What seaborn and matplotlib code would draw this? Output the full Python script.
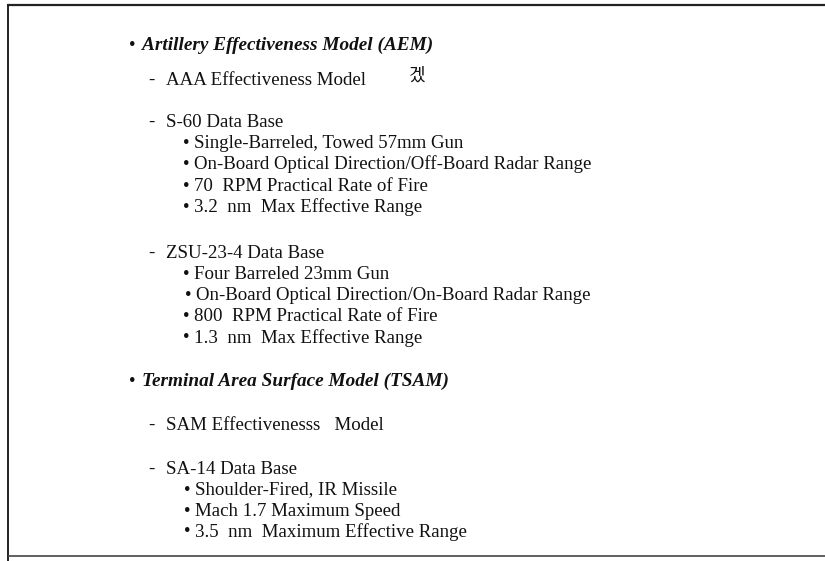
import matplotlib
matplotlib.use("Agg")
import matplotlib.pyplot as plt
import seaborn as sns

# ---- content ----
heading_1 = "Artillery Effectiveness Model (AEM)"
aem_items = ["AAA Effectiveness Model", "S-60 Data Base", "ZSU-23-4 Data Base"]
s60_details = ["Single-Barreled, Towed 57mm Gun",
               "On-Board Optical Direction/Off-Board Radar Range",
               "70  RPM Practical Rate of Fire",
               "3.2  nm  Max Effective Range"]
zsu_details = ["Four Barreled 23mm Gun",
               "On-Board Optical Direction/On-Board Radar Range",
               "800  RPM Practical Rate of Fire",
               "1.3  nm  Max Effective Range"]
heading_2 = "Terminal Area Surface Model (TSAM)"
tsam_items = ["SAM Effectivenesss   Model", "SA-14 Data Base"]
sa14_details = ["Shoulder-Fired, IR Missile",
                "Mach 1.7 Maximum Speed",
                "3.5  nm  Maximum Effective Range"]
stray_mark = "겠"

sns.set_theme(style="white")
plt.rcParams["font.family"] = ["Liberation Serif", "Noto Sans CJK KR", "DejaVu Sans"]

W, H = 825, 561
fig = plt.figure(figsize=(W / 100, H / 100), dpi=100)
ax = fig.add_axes([0, 0, 1, 1])
ax.set_xlim(0, W)
ax.set_ylim(H, 0)
ax.axis("off")

fs = 13.6
fs_head = 13.9
col = "#111111"

def heading(y, text):
    ax.text(129, y, "•", fontsize=fs, va="center", ha="left", color=col)
    ax.text(142, y, text, fontsize=fs_head, va="center", ha="left", color=col,
            fontweight="bold", fontstyle="italic")

def dash(y, text):
    ax.text(148, y, "-", fontsize=fs, va="center", ha="left", color=col)
    ax.text(166, y, text, fontsize=fs, va="center", ha="left", color=col)

def bullet(y, text, x0=183):
    ax.text(x0, y, "•", fontsize=fs, va="center", ha="left", color=col)
    ax.text(x0 + 11, y, text, fontsize=fs, va="center", ha="left", color=col)

# frame lines
ax.plot([7, W], [5, 5], color="#222222", lw=1.6, solid_capstyle="butt")
ax.plot([8, 8], [5, H], color="#222222", lw=1.4, solid_capstyle="butt")
ax.plot([8, W], [556, 556], color="#444444", lw=1.2, solid_capstyle="butt")

heading(45, heading_1)
dash(80, aem_items[0])
ax.text(409, 76, stray_mark, fontsize=13, va="center", ha="left", color=col,
        family=["Noto Sans CJK KR"])
dash(122, aem_items[1])
for i, t in enumerate(s60_details):
    bullet(143 + i * 21.5, t)
dash(253, aem_items[2])
for i, t in enumerate(zsu_details):
    bullet(274 + i * 21.3, t, x0=185 if i == 1 else 183)
heading(381, heading_2)
dash(425, tsam_items[0])
dash(469, tsam_items[1])
for i, t in enumerate(sa14_details):
    bullet(490 + i * 21, t, x0=184)

fig.savefig("out.png", dpi=100, facecolor="white")
